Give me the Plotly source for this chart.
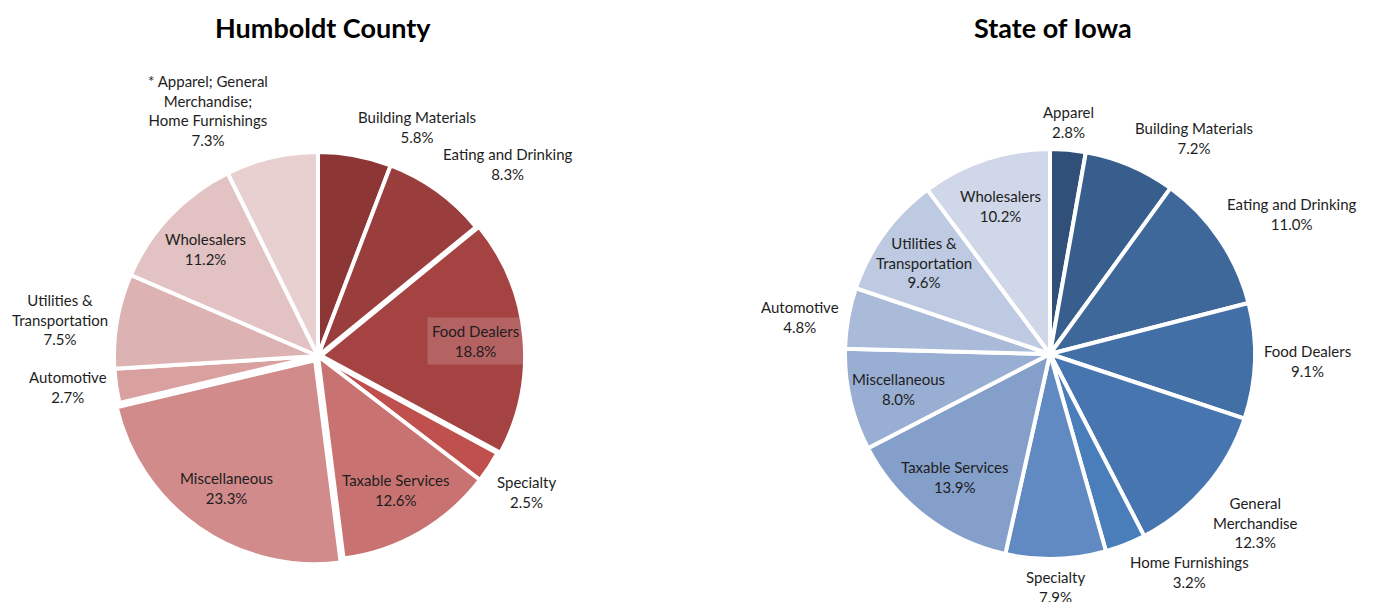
import math
import plotly.graph_objects as go

# ---------------- data ----------------
# Humboldt County
hc_labels = ["Building Materials", "Eating and Drinking", "Food Dealers", "Specialty",
             "Taxable Services", "Miscellaneous", "Automotive", "Utilities &<br>Transportation",
             "Wholesalers", "* Apparel; General<br>Merchandise;<br>Home Furnishings"]
hc_values = [5.8, 8.3, 18.8, 2.5, 12.6, 23.3, 2.7, 7.5, 11.2, 7.3]
hc_colors = ["#8C3636", "#9A3D3D", "#A54343", "#C0504D", "#C87371", "#D08B8A",
             "#D8A09F", "#DDB2B2", "#E2C2C2", "#E8CFD0"]
hc_mode = ["out", "out", "box", "out", "in", "in", "out", "out", "in", "out"]
hc_pull = [0, 0, 0.015, 0, 0, 0.025, 0, 0, 0, 0]

# State of Iowa
ia_labels = ["Apparel", "Building Materials", "Eating and Drinking", "Food Dealers",
             "General<br>Merchandise", "Home Furnishings", "Specialty", "Taxable Services",
             "Miscellaneous", "Automotive", "Utilities &<br>Transportation", "Wholesalers"]
ia_values = [2.8, 7.2, 11.0, 9.1, 12.3, 3.2, 7.9, 13.9, 8.0, 4.8, 9.6, 10.2]
ia_colors = ["#30507A", "#375E8D", "#3E679A", "#426FA6", "#4675AF", "#4A7EBB",
             "#628AC2", "#849FCA", "#99AED3", "#AABAD9", "#BDCAE2", "#CFD7E8"]
ia_mode = ["out", "out", "out", "out", "out", "out", "out", "in", "in", "out", "in", "in"]
ia_pull = [0] * 12

titles = ["Humboldt County", "State of Iowa"]

# ---------------- layout ----------------
W, H = 1380, 602
FONT = "Lato, 'Open Sans', sans-serif"
LABEL_SIZE = 15
GAP = 7
INSIDE = 0.76

fig = go.Figure()
annotations = []


def add_pie(labels, values, colors, modes, pulls, cx, cy, R):
    half = R * (1 + max(pulls))
    fig.add_trace(go.Pie(
        labels=labels, values=values, sort=False, direction="clockwise", rotation=0,
        marker=dict(colors=colors, line=dict(color="white", width=4)),
        pull=pulls, textinfo="none", hoverinfo="label+value", showlegend=False,
        domain=dict(x=[(cx - half) / W, (cx + half) / W],
                    y=[(H - cy - half) / H, (H - cy + half) / H]),
    ))
    total = sum(values)
    cum = 0.0
    for lab, v, mode, p in zip(labels, values, modes, pulls):
        theta = 2 * math.pi * (cum + v / 2) / total
        cum += v
        s, c = math.sin(theta), math.cos(theta)
        text = f"{lab}<br>{v:.1f}%"
        if mode == "out":
            d = R * (1 + p) + GAP
            xa = "left" if s > 0.15 else ("right" if s < -0.15 else "center")
            ya = "bottom" if c > 0.3 else ("top" if c < -0.3 else "middle")
            extra = {}
        else:
            d = R * (INSIDE + p)
            xa, ya = "center", "middle"
            extra = dict(bgcolor="rgba(255,255,255,0.17)", borderpad=4) if mode == "box" else {}
        annotations.append(dict(
            text=text, x=(cx + d * s) / W, y=1 - (cy - d * c) / H,
            xref="paper", yref="paper", showarrow=False, xanchor=xa, yanchor=ya,
            align="center", font=dict(family=FONT, size=LABEL_SIZE, color="#1e1e1e"), **extra))


add_pie(hc_labels, hc_values, hc_colors, hc_mode, hc_pull, 318, 356, 204)
add_pie(ia_labels, ia_values, ia_colors, ia_mode, ia_pull, 1050, 354, 205)

for t, tx in zip(titles, (323, 1053)):
    annotations.append(dict(text=f"<b>{t}</b>", x=tx / W, y=1 - 27 / H, xref="paper", yref="paper",
                            showarrow=False, xanchor="center", yanchor="middle",
                            font=dict(size=27, family=FONT, color="black")))

fig.update_layout(
    width=W, height=H, margin=dict(l=0, r=0, t=0, b=0),
    paper_bgcolor="white", plot_bgcolor="white",
    font=dict(family=FONT, color="#1e1e1e"),
    annotations=annotations,
)
fig.write_html("out.html", config={"displayModeBar": False},
               post_script="document.body.style.margin='0';document.body.style.overflow='hidden';")
